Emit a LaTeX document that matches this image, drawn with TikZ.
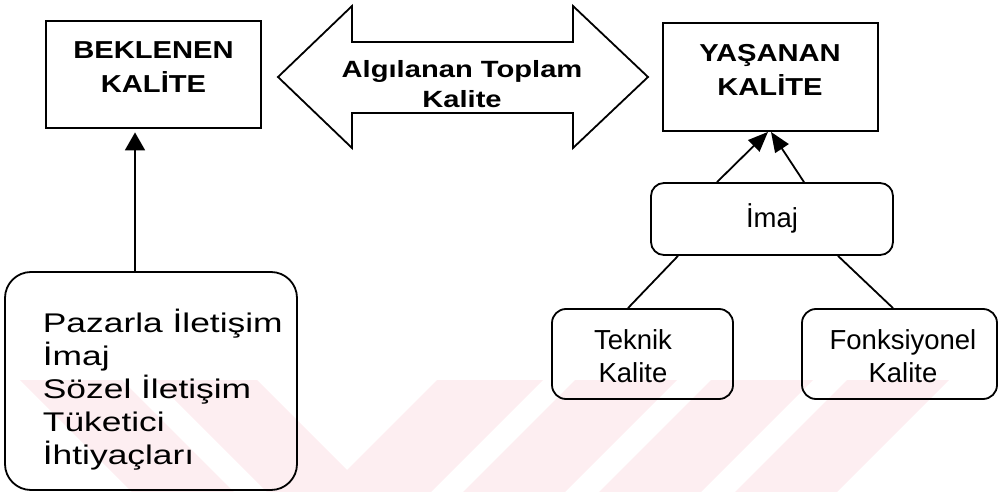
\documentclass[tikz,border=0pt]{standalone}
\usepackage{fontspec}
\usetikzlibrary{arrows.meta}
% Liberation Sans, widened where the labels are set wide
\newfontfamily\headfont{Liberation Sans}[FakeStretch=1.19]
\newfontfamily\arrowfont{Liberation Sans}[FakeStretch=1.24]
\newfontfamily\listfont{Liberation Sans}[FakeStretch=1.31]
\newfontfamily\plainfont{Liberation Sans}
\definecolor{wmpink}{RGB}{253,238,241}

\begin{document}
\begin{tikzpicture}[x=1pt,y=-1pt,
  line width=1.8pt,
  sqbox/.style={draw, rectangle, inner sep=0pt},
  rbox/.style={draw, rectangle, rounded corners=#1, inner sep=0pt},
  headtext/.style={inner sep=0pt, align=center,
    font=\headfont\bfseries\fontsize{24.5}{34}\selectfont},
  plaintext/.style={inner sep=0pt, align=center,
    font=\plainfont\fontsize{27.5}{33}\selectfont},
  uparrow/.style={-{Triangle[length=18pt,width=20pt]}},
  slantarrow/.style={-{Triangle[length=20pt,width=16pt]}}]
\useasboundingbox (0,0) rectangle (999,492);

% faint striped band along the bottom
\fill[wmpink] (20,380) -- (122,380) -- (234,492) -- (132,492) -- cycle;
\fill[wmpink] (155,380) -- (257,380) -- (347,470) -- (437,380) -- (543,380)
  -- (431,492) -- (267,492) -- cycle;
\fill[wmpink] (575,380) -- (677,380) -- (565,492) -- (463,492) -- cycle;
\fill[wmpink] (711,380) -- (813,380) -- (701,492) -- (599,492) -- cycle;
\fill[wmpink] (847,380) -- (949,380) -- (837,492) -- (735,492) -- cycle;

% boxes
\node[sqbox, minimum width=215pt, minimum height=107pt] (bk) at (153.5,74.5) {};
\node[sqbox, minimum width=215pt, minimum height=108pt] (ys) at (770.5,77) {};
\node[rbox=13pt, minimum width=242pt, minimum height=72pt] (im) at (772,219) {};
\node[rbox=14pt, minimum width=181pt, minimum height=90pt] (tk) at (642.5,354) {};
\node[rbox=14pt, minimum width=195pt, minimum height=90pt] (fk) at (899.5,354) {};
\node[rbox=26pt, minimum width=292pt, minimum height=218pt] (pz) at (151,381) {};

% double arrow between the two qualities
\draw[line join=miter] (278,77) coordinate (dl) -- (352,6) -- (352,42) -- (573,42)
  -- (573,6) -- (648,77) coordinate (dr) -- (573,148) -- (573,113)
  -- (352,113) -- (352,148) -- cycle;

% labels
\node[headtext] (bkt) at (153.5,67) {BEKLENEN\\KALİTE};
\node[headtext] (yst) at (770,69.5) {YAŞANAN\\KALİTE};
\node[inner sep=0pt, align=center,
  font=\arrowfont\bfseries\fontsize{23.5}{30}\selectfont] (apt) at (462,84)
  {Algılanan Toplam\\Kalite};
\node[plaintext, anchor=base] (imt) at (772,227) {İmaj};
\node[plaintext] (tkt) at (633,356.5) {Teknik\\Kalite};
\node[plaintext] (fkt) at (903,356.5) {Fonksiyonel\\Kalite};
\node[inner sep=0pt, align=left, anchor=north west,
  font=\listfont\fontsize{27}{33}\selectfont] (pzt) at (42,308)
  {Pazarla İletişim\\İmaj\\Sözel İletişim\\Tüketici\\İhtiyaçları};

% connectors
\coordinate (ax) at (135,0);
\draw[uparrow, shorten >=3.5pt] (pz.north -| ax) -- (bk.south -| ax);

\coordinate (i1) at (717,0);
\coordinate (i2) at (804,0);
\coordinate (y1) at (768,0);
\coordinate (y2) at (771,0);
\draw[slantarrow] (im.north -| i1) -- (ys.south -| y1);
\draw[slantarrow] (im.north -| i2) -- (ys.south -| y2);

\coordinate (t1) at (678,0);
\coordinate (t2) at (628,0);
\coordinate (f1) at (838,0);
\coordinate (f2) at (893,0);
\draw (im.south -| t1) -- (tk.north -| t2);
\draw (im.south -| f1) -- (fk.north -| f2);
\end{tikzpicture}
\end{document}
